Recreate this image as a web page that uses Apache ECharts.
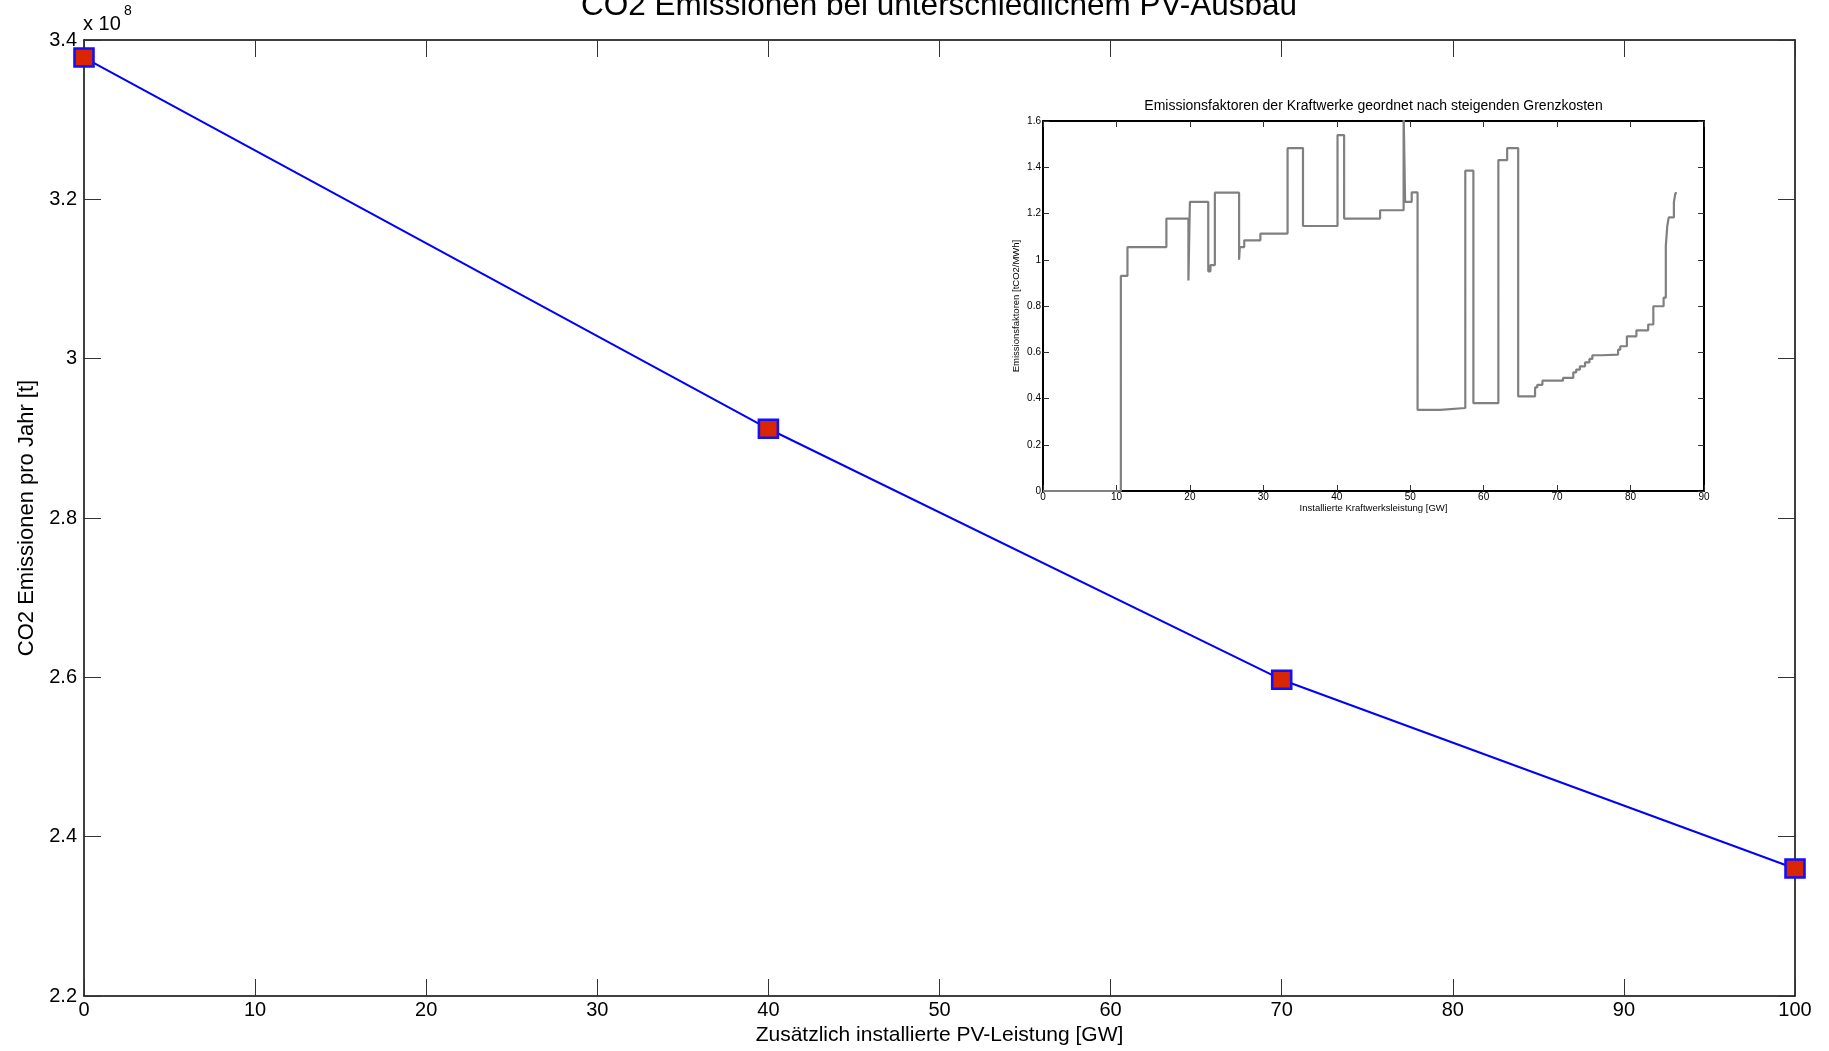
<!DOCTYPE html>
<html>
<head>
<meta charset="utf-8">
<title>CO2 Emissionen bei unterschiedlichem PV-Ausbau</title>
<script src="https://cdn.jsdelivr.net/npm/echarts@6/dist/echarts.min.js"></script>
<style>
  html, body { margin: 0; padding: 0; background: #fff; }
  #chart { width: 1829px; height: 1051px; }
</style>
</head>
<body>
<div id="chart"></div>
<script>
// Main plot: additional PV capacity vs. yearly CO2 emissions
const pvCapacityGW = [0, 40, 70, 100];
const co2Tonnes = [3.378e8, 2.912e8, 2.597e8, 2.360e8];
const mainXTicks = { min: 0, max: 100, step: 10 };
const mainYTicks = { min: 2.2e8, max: 3.4e8, step: 0.2e8 };

// Inset: emission factors of power plants sorted by marginal cost (step curve)
const plantCapacityGW = [0, 10.6, 11.5, 16.8, 19.8, 20.0, 22.5, 22.8, 23.4, 26.7,
  26.8, 27.4, 29.6, 33.3, 35.4, 40.1, 41.0, 45.9, 49.1, 49.3,
  50.2, 51.0, 54.1, 57.5, 58.6, 62.0, 63.2, 64.7, 67.0, 67.3,
  68.0, 70.8, 72.2, 72.6, 73.1, 73.8, 74.4, 74.8, 76.1, 78.3,
  78.6, 79.5, 80.8, 82.4, 83.1, 84.5, 84.8, 85.0, 85.2, 85.9,
  86.1, 86.3];
const emissionFactor = [0, 0.93, 1.055, 1.178, 0.91, 1.25, 0.95, 0.977, 1.29, 1.0,
  1.055, 1.084, 1.113, 1.483, 1.146, 1.539, 1.178, 1.214, 1.65, 1.25,
  1.291, 0.351, 0.359, 1.385, 0.38, 1.431, 1.483, 0.409, 0.448, 0.459,
  0.477, 0.489, 0.513, 0.525, 0.539, 0.556, 0.571, 0.587, 0.59, 0.611,
  0.626, 0.669, 0.695, 0.72, 0.799, 0.836, 1.06, 1.146, 1.183, 1.248,
  1.288, 1.288];
const insetXTicks = { min: 0, max: 90, step: 10 };
const insetYTicks = { min: 0, max: 1.6, step: 0.2 };

const FONT = '"Liberation Sans", Arial, Helvetica, sans-serif';

const mainBox = { left: 84, top: 40, width: 1711, height: 956 };
const insetBox = { left: 1043, top: 121, width: 661, height: 370 };

// Boxed axis with inward ticks; labels only where requested
function frameAxis(grid, pos, ticks, opts) {
  return Object.assign({
    type: 'value',
    gridIndex: grid,
    position: pos,
    min: ticks.min,
    max: ticks.max,
    interval: ticks.step,
    axisLine: { show: true, onZero: false, lineStyle: { color: '#000', width: opts.lineWidth } },
    axisTick: { show: true, inside: true, length: opts.tickLen, lineStyle: { color: '#333', width: 1 } },
    splitLine: { show: false },
    axisLabel: { show: false }
  }, opts.extra || {});
}

const xAxes = [
  frameAxis(0, 'bottom', mainXTicks, {
    lineWidth: 1.5, tickLen: 17,
    extra: {
      axisLabel: { show: true, fontFamily: FONT, fontSize: 20, color: '#000', margin: 4 },
      name: 'Zusätzlich installierte PV-Leistung [GW]',
      nameLocation: 'middle', nameGap: 28,
      nameTextStyle: { fontFamily: FONT, fontSize: 21, color: '#000' }
    }
  }),
  frameAxis(0, 'top', mainXTicks, { lineWidth: 1.5, tickLen: 17 }),
  frameAxis(1, 'bottom', insetXTicks, {
    lineWidth: 2, tickLen: 6,
    extra: {
      axisLabel: { show: true, fontFamily: FONT, fontSize: 10, color: '#000', margin: 1 },
      name: 'Installierte Kraftwerksleistung [GW]',
      nameLocation: 'middle', nameGap: 12,
      nameTextStyle: { fontFamily: FONT, fontSize: 9.5, color: '#000' }
    }
  }),
  frameAxis(1, 'top', insetXTicks, { lineWidth: 2, tickLen: 6 })
];

const yAxes = [
  frameAxis(0, 'left', mainYTicks, {
    lineWidth: 1.5, tickLen: 17,
    extra: {
      axisLabel: {
        show: true, fontFamily: FONT, fontSize: 20, color: '#000', margin: 7,
        formatter: v => String(+(v / 1e8).toFixed(1))
      },
      name: 'CO2 Emissionen pro Jahr [t]',
      nameLocation: 'middle', nameGap: 46, nameRotate: 90,
      nameTextStyle: { fontFamily: FONT, fontSize: 22, color: '#000' }
    }
  }),
  frameAxis(0, 'right', mainYTicks, { lineWidth: 1.5, tickLen: 17 }),
  frameAxis(1, 'left', insetYTicks, {
    lineWidth: 2, tickLen: 6,
    extra: {
      axisLabel: { show: true, fontFamily: FONT, fontSize: 10, color: '#000', margin: 2 },
      name: 'Emissionsfaktoren [tCO2/MWh]',
      nameLocation: 'middle', nameGap: 22, nameRotate: 90,
      nameTextStyle: { fontFamily: FONT, fontSize: 9.5, color: '#000' }
    }
  }),
  frameAxis(1, 'right', insetYTicks, { lineWidth: 2, tickLen: 6 })
];

const chart = echarts.init(document.getElementById('chart'), null, { renderer: 'canvas' });

chart.setOption({
  backgroundColor: '#fff',
  animation: false,
  grid: [
    Object.assign({ containLabel: false }, mainBox),
    Object.assign({ containLabel: false, show: true, backgroundColor: '#fff', borderWidth: 0 }, insetBox)
  ],
  xAxis: xAxes,
  yAxis: yAxes,
  graphic: [
    {
      type: 'text', x: 939, y: 6,
      style: {
        text: 'CO2 Emissionen bei unterschiedlichem PV-Ausbau',
        font: '31.5px ' + FONT, fill: '#000', align: 'center', verticalAlign: 'middle'
      }
    },
    {
      type: 'text', x: 83, y: 24,
      style: { text: 'x 10', font: '20px ' + FONT, fill: '#000', align: 'left', verticalAlign: 'middle' }
    },
    {
      type: 'text', x: 124, y: 11,
      style: { text: '8', font: '14px ' + FONT, fill: '#000', align: 'left', verticalAlign: 'middle' }
    },
    {
      type: 'text', x: insetBox.left + insetBox.width / 2, y: 106,
      style: {
        text: 'Emissionsfaktoren der Kraftwerke geordnet nach steigenden Grenzkosten',
        font: '14px ' + FONT, fill: '#000', align: 'center', verticalAlign: 'middle'
      }
    }
  ],
  series: [
    {
      type: 'line',
      xAxisIndex: 0, yAxisIndex: 0,
      data: pvCapacityGW.map((x, i) => [x, co2Tonnes[i]]),
      clip: false,
      symbol: 'rect',
      symbolSize: [19, 18],
      lineStyle: { color: '#0000ff', width: 2 },
      itemStyle: { color: '#d92600', borderColor: '#1010ff', borderWidth: 2.5 },
      z: 5
    },
    {
      type: 'line',
      xAxisIndex: 2, yAxisIndex: 2,
      data: plantCapacityGW.map((x, i) => [x, emissionFactor[i]]),
      step: 'end',
      clip: true,
      showSymbol: false,
      lineStyle: { color: '#808080', width: 2.2 },
      z: 4
    }
  ]
});
</script>
</body>
</html>
